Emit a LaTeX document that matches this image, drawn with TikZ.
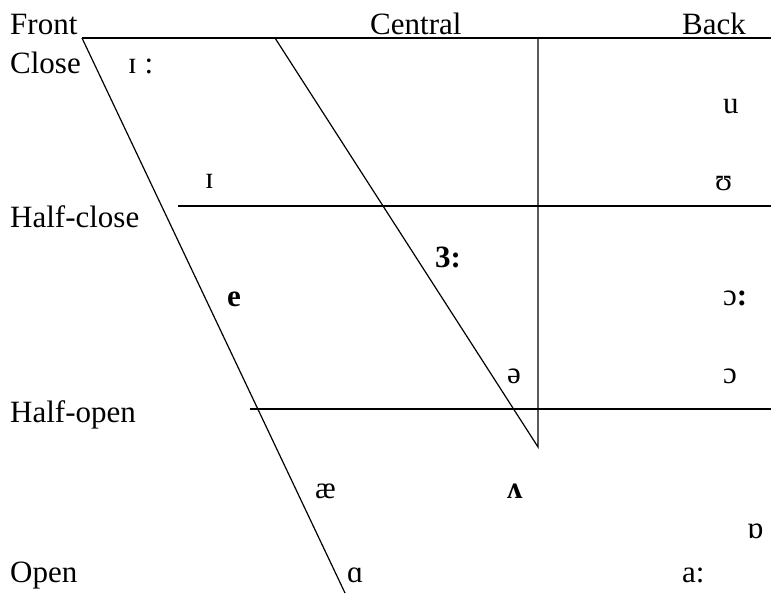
\documentclass[tikz,border=0pt]{standalone}
\usepackage{fontspec}
\setmainfont{Liberation Serif}
\usepackage{tikz}

\begin{document}
\begin{tikzpicture}[x=1pt,y=-1pt,
  lbl/.style={anchor=base west,inner sep=0pt,font=\fontsize{31}{36}\selectfont},
  chartline/.style={draw=black,line width=1.2pt}]
  \useasboundingbox (0,0) rectangle (771,594);
  % frame of the chart
  \coordinate (topL) at (82,38);
  \coordinate (topR) at (771,38);
  \coordinate (frontBot) at (345,593);
  \coordinate (midTop) at (275,38);
  \coordinate (midBot) at (538,447);
  \coordinate (backTop) at (538,38);
  \coordinate (hcL) at (178,206);
  \coordinate (hcR) at (771,206);
  \coordinate (hoL) at (250,409);
  \coordinate (hoR) at (771,409);
  \draw[chartline] (topL) -- (topR);
  \draw[chartline] (topL) -- (frontBot);
  \draw[chartline] (midTop) -- (midBot) -- (backTop);
  \draw[chartline] (hcL) -- (hcR);
  \draw[chartline] (hoL) -- (hoR);
  % axis labels
  \node[lbl] (front) at (10,35) {Front};
  \node[lbl] (central) at (370,35) {Central};
  \node[lbl] (back) at (682,35) {Back};
  \node[lbl] (close) at (10,74) {Close};
  \node[lbl] (halfclose) at (10,227) {Half-close};
  \node[lbl] (halfopen) at (10,422) {Half-open};
  \node[lbl] (open) at (10,582) {Open};
  % vowels
  \node[lbl] (iLong) at (128,74) {ɪ :};
  \node[lbl] (iShort) at (205,188) {ɪ};
  \node[lbl] (uLong) at (723,113) {u};
  \node[lbl] (uShort) at (715,190) {ʊ};
  \node[lbl] (erLong) at (435,267) {\textbf{3:}};
  \node[lbl] (eShort) at (227,306) {\textbf{e}};
  \node[lbl] (oLong) at (723,305) {ɔ\textbf{:}};
  \node[lbl] (schwa) at (507,383) {ə};
  \node[lbl] (oShort) at (723,383) {ɔ};
  \node[lbl] (ash) at (315,498) {æ};
  \node[lbl] (wedge) at (507,498) {\textbf{ʌ}};
  \node[lbl] (oRound) at (747,538) {ɒ};
  \node[lbl] (aBack) at (347,582) {ɑ};
  \node[lbl] (aLong) at (682,582) {a:};
\end{tikzpicture}
\end{document}
